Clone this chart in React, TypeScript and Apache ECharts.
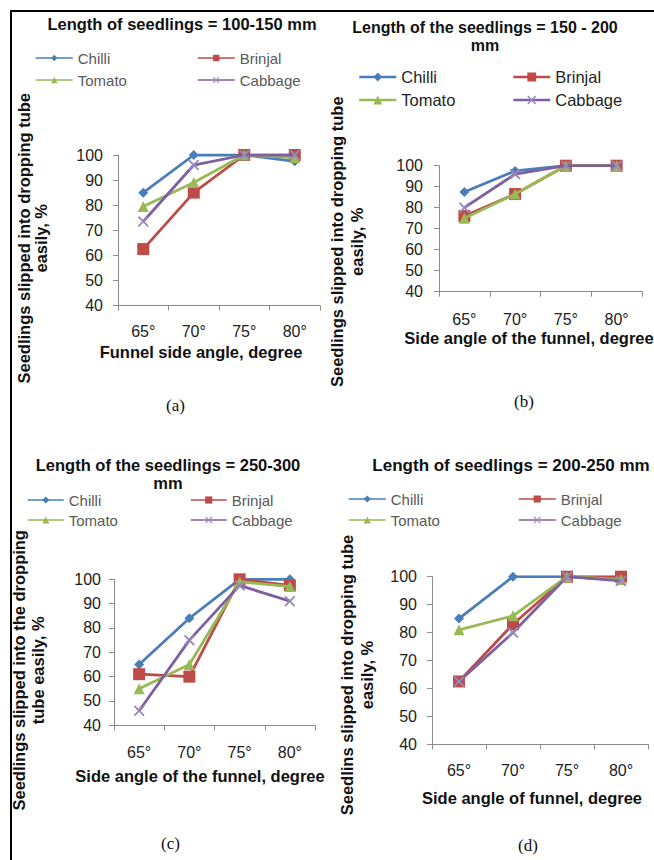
import React, { useEffect, useRef } from 'react';
import * as echarts from 'echarts';

// ---------- data ----------
const angles = ['65°', '70°', '75°', '80°'];
const cropNames = ['Chilli', 'Brinjal', 'Tomato', 'Cabbage'];

// (a) seedlings 100-150 mm
const chilliA = [85, 100, 100, 97.5];
const brinjalA = [62.5, 85, 100, 100];
const tomatoA = [79.5, 89, 100, 99];
const cabbageA = [73.5, 96, 100, 100];

// (b) seedlings 150-200 mm
const chilliB = [87.5, 97.5, 100, 100];
const brinjalB = [76, 86.5, 100, 100];
const tomatoB = [75, 86.5, 100, 100];
const cabbageB = [80, 96, 100, 100];

// (c) seedlings 250-300 mm
const chilliC = [65, 84, 100, 100];
const brinjalC = [61, 60, 100, 97.5];
const tomatoC = [55, 65, 99, 97];
const cabbageC = [46, 75, 97.5, 91];

// (d) seedlings 200-250 mm
const chilliD = [85, 100, 100, 99];
const brinjalD = [62.5, 83, 100, 100];
const tomatoD = [81, 86, 100, 99];
const cabbageD = [62.5, 80, 100, 98.5];

const panelData = [
  [chilliA, brinjalA, tomatoA, cabbageA],
  [chilliB, brinjalB, tomatoB, cabbageB],
  [chilliC, brinjalC, tomatoC, cabbageC],
  [chilliD, brinjalD, tomatoD, cabbageD],
];

const yMin = 40;
const yMax = 100;
const yStep = 10;

const panelTitles = [
  'Length of seedlings = 100-150 mm',
  'Length of the seedlings = 150 - 200\nmm',
  'Length of the seedlings = 250-300\nmm',
  'Length of seedlings = 200-250 mm',
];
const xNames = [
  'Funnel side angle, degree',
  'Side angle of the funnel, degree',
  'Side angle of the funnel, degree',
  'Side angle of funnel, degree',
];
const yNames = [
  'Seedlings slipped into dropping tube\neasily, %',
  'Seedlings slipped into dropping tube\neasily, %',
  'Seedlings slipped into the dropping\ntube easily, %',
  'Seedlins slipped into dropping tube\neasily, %',
];
const panelTags = ['(a)', '(b)', '(c)', '(d)'];

// ---------- styles / layout ----------
const COLORS = ['#4a7ebb', '#be4b48', '#98b954', '#7d60a0'];
const X_PATH = 'path://M0,1.2L1.2,0L5,3.8L8.8,0L10,1.2L6.2,5L10,8.8L8.8,10L5,6.2L1.2,10L0,8.8L3.8,5Z';
const SYMBOLS = ['diamond', 'rect', 'triangle', X_PATH];
const SYMBOL_SIZES = [10, 12, 11, 11];
const FONT = '"Liberation Sans", Arial, sans-serif';

const layout = [
  {
    grid: { left: 118, top: 155, width: 202, height: 150.5 },
    title: { x: 182, top: 15, size: 16.5 },
    yName: { gap: 69, lh: 17, pad: 16 },
    xName: { gap: 38, pad: 36 },
    xLabelMargin: 18, yLabelMargin: 15,
    legend: { x1: 35, x2: 197, top: 50, lh: 16, gap: 6, iw: 37, ih: 8, fs: 15, color: '#595959', lw: 1.5 },
    tag: { x: 175, y: 407 },
  },
  {
    grid: { left: 439, top: 165.7, width: 203, height: 126 },
    title: { x: 485, top: 18, size: 16 },
    yName: { gap: 72, lh: 20, pad: 26 },
    xName: { gap: 38, pad: 23 },
    xLabelMargin: 20, yLabelMargin: 16,
    legend: { x1: 358, x2: 512, top: 68, lh: 18, gap: 5, iw: 37, ih: 11, fs: 16.5, color: '#1f1f1f', lw: 2.5 },
    tag: { x: 523, y: 403 },
  },
  {
    grid: { left: 114, top: 579.3, width: 201, height: 146 },
    title: { x: 168, top: 456, size: 16.5 },
    yName: { gap: 67, lh: 19, pad: 36 },
    xName: { gap: 42, pad: 29 },
    xLabelMargin: 19, yLabelMargin: 13,
    legend: { x1: 27, x2: 190, top: 492, lh: 16, gap: 4, iw: 36, ih: 9, fs: 15, color: '#595959', lw: 1.5 },
    tag: { x: 170, y: 845 },
  },
  {
    grid: { left: 432, top: 576.7, width: 216, height: 167.6 },
    title: { x: 511, top: 456, size: 17 },
    yName: { gap: 55, lh: 20, pad: 29 },
    xName: { gap: 45, pad: 16 },
    xLabelMargin: 18, yLabelMargin: 15,
    legend: { x1: 348, x2: 518, top: 491, lh: 16, gap: 5, iw: 37, ih: 9, fs: 15, color: '#595959', lw: 1.5 },
    tag: { x: 527, y: 847 },
  },
];

function buildOption() {
  const grid: any[] = [];
  const xAxis: any[] = [];
  const yAxis: any[] = [];
  const series: any[] = [];
  const title: any[] = [];
  const legend: any[] = [];
  const graphic: any[] = [];

  layout.forEach((L, p) => {
    grid.push({ ...L.grid, containLabel: false, outerBoundsMode: 'none' });
    xAxis.push({
      type: 'category',
      gridIndex: p,
      data: angles,
      boundaryGap: true,
      name: xNames[p],
      nameLocation: 'middle',
      nameGap: L.xName.gap,
      nameTextStyle: {
        fontFamily: FONT, fontWeight: 'bold', fontSize: 16.5, color: '#111',
        padding: [0, L.xName.pad, 0, 0],
      },
      axisLine: { show: true, lineStyle: { color: '#8a8a8a', width: 1 } },
      axisTick: { show: true, length: 5, lineStyle: { color: '#8a8a8a' } },
      axisLabel: { margin: L.xLabelMargin, fontFamily: FONT, fontSize: 16, color: '#222' },
      splitLine: { show: false },
    });
    yAxis.push({
      type: 'value',
      gridIndex: p,
      min: yMin,
      max: yMax,
      interval: yStep,
      name: yNames[p],
      nameLocation: 'middle',
      nameRotate: 90,
      nameGap: L.yName.gap,
      nameTextStyle: {
        fontFamily: FONT, fontWeight: 'bold', fontSize: 16.5, color: '#111',
        lineHeight: L.yName.lh, padding: [0, L.yName.pad, 0, 0],
      },
      axisLine: { show: true, lineStyle: { color: '#8a8a8a', width: 1 } },
      axisTick: { show: true, length: 5, lineStyle: { color: '#8a8a8a' } },
      axisLabel: { margin: L.yLabelMargin, fontFamily: FONT, fontSize: 16, color: '#222' },
      splitLine: { show: false },
    });
    title.push({
      text: panelTitles[p],
      left: L.title.x,
      top: L.title.top,
      textAlign: 'center',
      padding: 0,
      textStyle: {
        fontFamily: FONT, fontWeight: 'bold', fontSize: L.title.size, color: '#111', lineHeight: 18,
      },
    });
    panelData[p].forEach((vals, s) => {
      series.push({
        type: 'line',
        name: cropNames[s],
        xAxisIndex: p,
        yAxisIndex: p,
        data: vals,
        symbol: SYMBOLS[s],
        symbolSize: SYMBOL_SIZES[s],
        showAllSymbol: true,
        lineStyle: { color: COLORS[s], width: 2.8 },
        itemStyle: { color: s === 3 ? '#9a88bd' : COLORS[s] },
        emphasis: { disabled: true },
        z: 2 + s,
      });
    });
    const lg = L.legend;
    [[0, 2], [1, 3]].forEach((pair, c) => {
      legend.push({
        orient: 'vertical',
        left: c === 0 ? lg.x1 : lg.x2,
        top: lg.top,
        padding: 0,
        itemGap: lg.gap,
        itemWidth: lg.iw,
        itemHeight: lg.ih,
        selectedMode: false,
        data: pair.map((i) => cropNames[i]),
        lineStyle: { width: lg.lw },
        textStyle: { fontFamily: FONT, fontSize: lg.fs, color: lg.color, lineHeight: lg.lh },
      });
    });
    graphic.push({
      type: 'text',
      left: L.tag.x - 9,
      top: L.tag.y - 10,
      style: {
        text: panelTags[p],
        font: '17px "Liberation Serif", "Times New Roman", serif',
        fill: '#111',
      },
    });
  });

  // frame of the figure (left and top edges visible)
  graphic.push({
    type: 'line',
    shape: { x1: 11, y1: 10, x2: 11, y2: 870 },
    style: { stroke: '#000', lineWidth: 2 },
  });
  graphic.push({
    type: 'line',
    shape: { x1: 10, y1: 11, x2: 660, y2: 11 },
    style: { stroke: '#000', lineWidth: 2 },
  });

  return {
    animation: false,
    backgroundColor: '#ffffff',
    grid, xAxis, yAxis, series, title, legend, graphic,
    tooltip: { show: false },
  };
}

export default function App() {
  const ref = useRef<HTMLDivElement>(null);
  useEffect(() => {
    if (!ref.current) return;
    const chart = echarts.init(ref.current, undefined, { renderer: 'svg' });
    chart.setOption(buildOption() as any);
    return () => chart.dispose();
  }, []);
  return (
    <div
      ref={ref}
      style={{ position: 'absolute', left: 0, top: 0, width: 654, height: 860, background: '#fff' }}
    />
  );
}
